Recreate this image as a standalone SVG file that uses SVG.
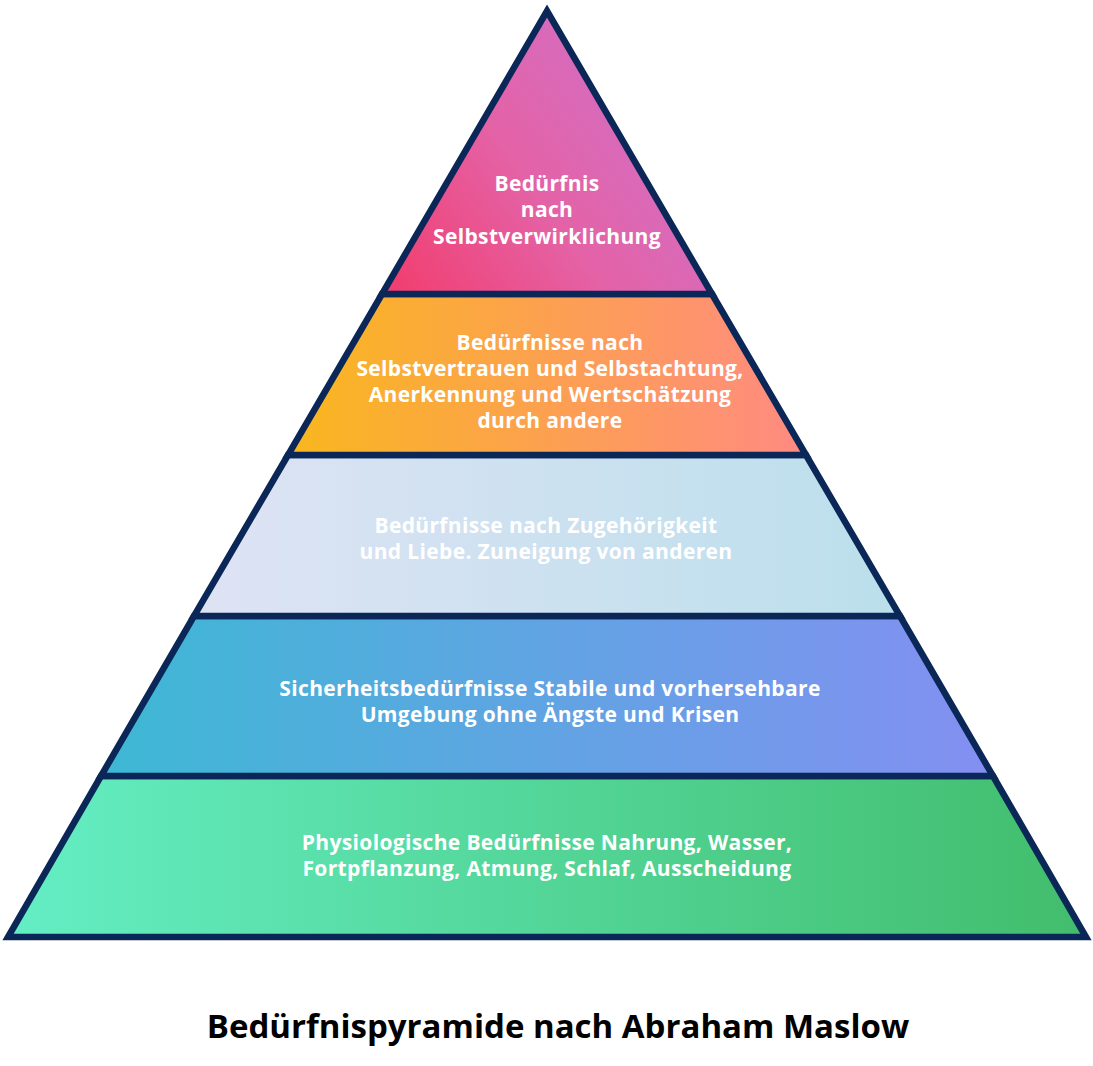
<svg xmlns="http://www.w3.org/2000/svg" width="1093" height="1066" viewBox="0 0 1093 1066">
<defs>
<linearGradient id="g1" x1="0" y1="1" x2="1" y2="0.4"><stop offset="0" stop-color="#f23c6c"/><stop offset="0.5" stop-color="#e462a6"/><stop offset="1" stop-color="#d070c8"/></linearGradient>
<linearGradient id="g2" x1="0" y1="0" x2="1" y2="0"><stop offset="0" stop-color="#f9b71e"/><stop offset="1" stop-color="#ff8a82"/></linearGradient>
<linearGradient id="g3" x1="0" y1="0" x2="1" y2="0"><stop offset="0" stop-color="#dee3f4"/><stop offset="1" stop-color="#bbdfec"/></linearGradient>
<linearGradient id="g4" x1="0" y1="0" x2="1" y2="0"><stop offset="0" stop-color="#3db8d4"/><stop offset="1" stop-color="#848ff2"/></linearGradient>
<linearGradient id="g5" x1="0" y1="0" x2="1" y2="0"><stop offset="0" stop-color="#64eec4"/><stop offset="1" stop-color="#42bd6c"/></linearGradient>
</defs>
<style>
.layer{stroke:#0b2757;stroke-width:6.5;stroke-linejoin:miter}
.t{font-family:"Open Sans","Noto Sans","Liberation Sans",sans-serif;font-weight:700;font-size:21px;letter-spacing:0.35px;fill:#ffffff;text-anchor:middle}
.title{font-family:"Open Sans","Noto Sans","Liberation Sans",sans-serif;font-weight:700;font-size:33px;fill:#000000;text-anchor:middle}
</style>
<g id="layer5">
<polygon class="layer" fill="url(#g5)" points="101,776 993,776 1086,937 8,937"/>
<text class="t" x="547" y="850">Physiologische Bedürfnisse Nahrung, Wasser,</text>
<text class="t" x="547" y="876">Fortpflanzung, Atmung, Schlaf, Ausscheidung</text>
</g>
<g id="layer4">
<polygon class="layer" fill="url(#g4)" points="194,616 900,616 993,776 101,776"/>
<text class="t" x="550" y="696">Sicherheitsbedürfnisse Stabile und vorhersehbare</text>
<text class="t" x="550" y="722">Umgebung ohne Ängste und Krisen</text>
</g>
<g id="layer3">
<polygon class="layer" fill="url(#g3)" points="288,455 806,455 900,616 194,616"/>
<text class="t" x="546" y="533">Bedürfnisse nach Zugehörigkeit</text>
<text class="t" x="546" y="559">und Liebe. Zuneigung von anderen</text>
</g>
<g id="layer2">
<polygon class="layer" fill="url(#g2)" points="382,294 712,294 806,455 288,455"/>
<text class="t" x="550" y="350">Bedürfnisse nach</text>
<text class="t" x="550" y="376">Selbstvertrauen und Selbstachtung,</text>
<text class="t" x="550" y="402">Anerkennung und Wertschätzung</text>
<text class="t" x="550" y="428">durch andere</text>
</g>
<g id="layer1">
<polygon class="layer" fill="url(#g1)" points="547,11 712,294 382,294"/>
<text class="t" x="547" y="191">Bedürfnis</text>
<text class="t" x="547" y="217">nach</text>
<text class="t" x="547" y="244">Selbstverwirklichung</text>
</g>
<g id="connectors"/>
<text class="title" x="558" y="1038">Bedürfnispyramide nach Abraham Maslow</text>
</svg>
